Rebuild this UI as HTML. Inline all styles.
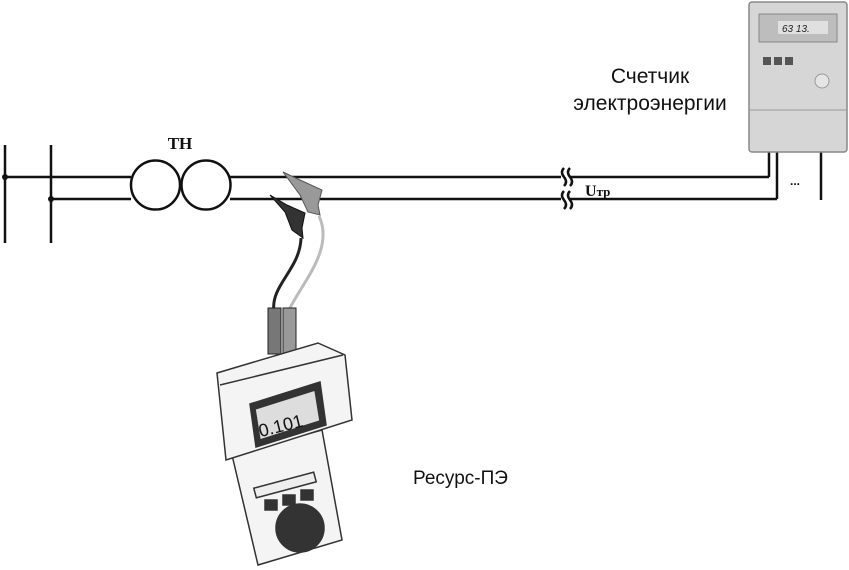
<!DOCTYPE html>
<html><head><meta charset="utf-8"><style>
html,body{margin:0;padding:0;background:#fff;}
svg{display:block;}
</style></head><body>
<svg width="849" height="570" viewBox="0 0 849 570" xmlns="http://www.w3.org/2000/svg">
<g stroke="#111" stroke-width="2.5" fill="none">
<line x1="5" y1="145" x2="5" y2="243"/>
<line x1="51" y1="145" x2="51" y2="243"/>
<line x1="5" y1="177" x2="131" y2="177"/>
<line x1="51" y1="199" x2="131" y2="199"/>
<circle cx="155.5" cy="185" r="24.5"/>
<circle cx="206" cy="185" r="24.5"/>
<line x1="230" y1="177" x2="561" y2="177"/>
<line x1="230" y1="199" x2="561" y2="199"/>
<line x1="570" y1="177" x2="769" y2="177"/>
<line x1="570" y1="199" x2="777" y2="199"/>
<line x1="769" y1="177" x2="769" y2="152"/>
<line x1="777" y1="199" x2="777" y2="152"/>
<line x1="821" y1="152" x2="821" y2="200"/>
<path d="M564 168 q-4 4 0 9 q4 5 0 9 M570 168 q-4 4 0 9 q4 5 0 9"/>
<path d="M564 191 q-4 4 0 9 q4 5 0 9 M570 191 q-4 4 0 9 q4 5 0 9"/>
</g>
<circle cx="5" cy="177" r="3" fill="#111"/>
<circle cx="51" cy="199" r="3" fill="#111"/>
<text x="180" y="149" font-family="Liberation Serif, serif" font-weight="bold" font-size="17" text-anchor="middle" fill="#111">ТН</text>
<text x="585" y="196" font-family="Liberation Serif, serif" font-weight="bold" font-size="16" fill="#111">U<tspan font-size="13">тр</tspan></text>
<text x="790" y="185" font-family="Liberation Sans, sans-serif" font-weight="bold" font-size="12" fill="#111">...</text>
<text x="650" y="83" font-family="Liberation Sans, sans-serif" font-size="21" text-anchor="middle" fill="#111">Счетчик</text>
<text x="650" y="110" font-family="Liberation Sans, sans-serif" font-size="21" text-anchor="middle" fill="#111">электроэнергии</text>
<text x="413" y="484" font-family="Liberation Sans, sans-serif" font-size="19" fill="#111">Ресурс-ПЭ</text>
<!-- meter -->
<rect x="749" y="2" width="98" height="150" rx="3" fill="#d6d6d6" stroke="#888" stroke-width="1.5"/>
<rect x="759" y="14" width="78" height="28" fill="#bdbdbd" stroke="#888"/>
<rect x="778" y="21" width="50" height="13" fill="#e0e0e0"/>
<text x="782" y="32" font-family="Liberation Sans,sans-serif" font-style="italic" font-size="10" fill="#222">63 13.</text>
<rect x="763" y="57" width="8" height="8" fill="#555"/><rect x="774" y="57" width="8" height="8" fill="#555"/><rect x="785" y="57" width="8" height="8" fill="#555"/>
<circle cx="822" cy="81" r="7" fill="#e5e5e5" stroke="#999"/>
<line x1="749" y1="110" x2="847" y2="110" stroke="#999"/>
<!-- clamps and cables -->
<path d="M319 216 C 335 250, 300 285, 288 312" stroke="#bbb" stroke-width="3" fill="none"/>
<path d="M301 238 C 300 270, 270 285, 274 312" stroke="#222" stroke-width="3" fill="none"/>
<path d="M283 172 L300 180 L322 190 L318 205 L320 215 L308 212 L300 195 Z" fill="#999" stroke="#555"/>
<path d="M270 195 L287 205 L305 213 L302 228 L303 238 L292 230 L285 212 Z" fill="#333" stroke="#111"/>
<rect x="268" y="308" width="13" height="46" fill="#777" stroke="#222"/>
<rect x="283" y="308" width="13" height="46" fill="#999" stroke="#222"/>
<!-- device -->
<g stroke="#333" stroke-width="1.5" fill="#f4f4f4">
<path d="M232 455 L322 430 L342 540 L258 565 Z"/>
<path d="M217 373 L318 343 L345 355 L352 420 L226 460 Z"/>
<path d="M220 385 L343 355"/>
<path d="M250 404 L320 382 L326 425 L256 447 Z" fill="#333"/>
<path d="M255 409 L315 390 L320 421 L260 440 Z" fill="#ddd"/>
<circle cx="300" cy="528" r="24" fill="#333"/>
<rect x="265" y="500" width="12" height="10" fill="#333"/>
<rect x="283" y="495" width="12" height="10" fill="#333"/>
<rect x="301" y="490" width="12" height="10" fill="#333"/>
<rect x="254" y="480" width="62" height="10" fill="#eee" transform="rotate(-15 285 485)"/>
</g>
<text x="258" y="432" font-family="Liberation Sans,sans-serif" font-size="18" fill="#111" transform="rotate(-14 280 425)">0.101</text>
</svg>
</body></html>
